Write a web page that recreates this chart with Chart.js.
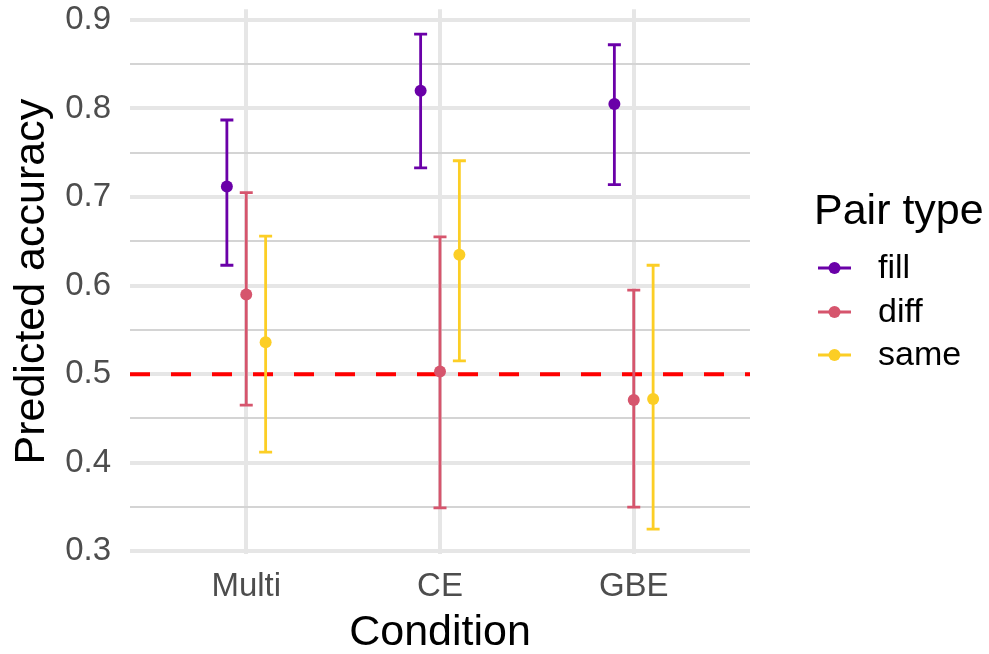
<!DOCTYPE html>
<html>
<head>
<meta charset="utf-8">
<title>Predicted accuracy by condition</title>
<script src="https://cdn.jsdelivr.net/npm/chart.js@4/dist/chart.umd.min.js"></script>
<style>
  html, body { margin: 0; padding: 0; background: #ffffff; }
  canvas { display: block; }
</style>
</head>
<body>
<canvas id="chart" width="989" height="654"></canvas>
<script>
// Conditions along the x axis
const categories = ['Multi', 'CE', 'GBE'];
// Pair types (legend order)
const pairTypes = ['fill', 'diff', 'same'];

// Predicted accuracy with lower / upper interval bounds per condition
const fillMean = [0.712, 0.820, 0.805];
const fillLow  = [0.623, 0.733, 0.714];
const fillHigh = [0.787, 0.884, 0.872];

const diffMean = [0.590, 0.503, 0.471];
const diffLow  = [0.465, 0.349, 0.350];
const diffHigh = [0.705, 0.655, 0.595];

const sameMean = [0.536, 0.635, 0.472];
const sameLow  = [0.412, 0.515, 0.325];
const sameHigh = [0.656, 0.741, 0.623];

// Chance level reference
const chanceLevel = 0.5;

// Y axis ticks
const yMajorTicks = [0.3, 0.4, 0.5, 0.6, 0.7, 0.8, 0.9];
const yMinorTicks = [0.35, 0.45, 0.55, 0.65, 0.75, 0.85];

const seriesColors = ['#6a00a8', '#d6556d', '#fcce25'];
const dodge = [-0.1, 0, 0.1];
const FONT = '"Liberation Sans", Arial, Helvetica, sans-serif';

const series = [
  { mean: fillMean, low: fillLow, high: fillHigh },
  { mean: diffMean, low: diffLow, high: diffHigh },
  { mean: sameMean, low: sameLow, high: sameHigh }
];

const datasets = [];

// dashed chance line across the panel
datasets.push({
  type: 'line',
  label: 'chance',
  data: [{ x: 0.4, y: chanceLevel }, { x: 3.6, y: chanceLevel }],
  borderColor: '#ff0000',
  borderWidth: 4,
  borderDash: [20, 21],
  pointRadius: 0,
  order: 10
});

// interval bars: one two-point segment per condition, capped with 'line' point style
series.forEach((s, si) => {
  categories.forEach((c, ci) => {
    const x = ci + 1 + dodge[si];
    datasets.push({
      type: 'line',
      label: pairTypes[si] + ' ' + c + ' interval',
      data: [{ x: x, y: s.low[ci] }, { x: x, y: s.high[ci] }],
      borderColor: seriesColors[si],
      borderWidth: 2.8,
      pointStyle: 'line',
      pointRadius: 6.5,
      pointHoverRadius: 6.5,
      pointBorderWidth: 2.8,
      pointBorderColor: seriesColors[si],
      order: 5
    });
  });
});

// point estimates
series.forEach((s, si) => {
  datasets.push({
    type: 'scatter',
    label: pairTypes[si],
    data: categories.map((c, ci) => ({ x: ci + 1 + dodge[si], y: s.mean[ci] })),
    backgroundColor: seriesColors[si],
    borderColor: seriesColors[si],
    pointRadius: 6,
    pointHoverRadius: 6,
    borderWidth: 0,
    order: 1
  });
});

const isMajor = v => Math.abs(v * 10 - Math.round(v * 10)) < 1e-6;

// axis titles and the legend on the right
const annotations = {
  id: 'annotations',
  afterDraw(chart) {
    const ctx = chart.ctx;
    const area = chart.chartArea;
    ctx.save();
    ctx.fillStyle = '#000000';
    ctx.font = '43px ' + FONT;
    ctx.textAlign = 'center';
    ctx.textBaseline = 'alphabetic';
    ctx.fillText('Condition', (area.left + area.right) / 2, 645);

    ctx.save();
    ctx.translate(44, (area.top + area.bottom) / 2);
    ctx.rotate(-Math.PI / 2);
    ctx.fillText('Predicted accuracy', 0, 0);
    ctx.restore();

    ctx.textAlign = 'left';
    ctx.fillText('Pair type', 814, 224);

    ctx.font = '34px ' + FONT;
    ctx.textBaseline = 'middle';
    const rowY = [268, 312, 355];
    pairTypes.forEach((name, i) => {
      const y = rowY[i];
      ctx.strokeStyle = seriesColors[i];
      ctx.lineWidth = 2.8;
      ctx.beginPath();
      ctx.moveTo(818, y);
      ctx.lineTo(851, y);
      ctx.stroke();
      ctx.fillStyle = seriesColors[i];
      ctx.beginPath();
      ctx.arc(834.5, y, 6, 0, Math.PI * 2);
      ctx.fill();
      ctx.fillStyle = '#000000';
      ctx.fillText(name, 878, y + 1);
    });
    ctx.restore();
  }
};

new Chart(document.getElementById('chart'), {
  data: { datasets: datasets },
  options: {
    responsive: false,
    animation: false,
    events: [],
    layout: { padding: { top: 7, right: 239, left: 0, bottom: 0 } },
    plugins: {
      legend: { display: false },
      tooltip: { enabled: false }
    },
    scales: {
      x: {
        type: 'linear',
        min: 0.4,
        max: 3.6,
        afterBuildTicks: scale => {
          scale.ticks = categories.map((c, i) => ({ value: i + 1 }));
        },
        afterFit: scale => {
          scale.height = 100;
          scale.paddingLeft = 0;
          scale.paddingRight = 0;
        },
        grid: {
          color: '#e6e6e6',
          lineWidth: 4,
          drawTicks: false
        },
        border: { display: false },
        ticks: {
          padding: 13,
          color: '#4d4d4d',
          font: { family: FONT, size: 33 },
          autoSkip: false,
          maxRotation: 0,
          callback: v => categories[Math.round(v) - 1] || ''
        }
      },
      y: {
        type: 'linear',
        min: 0.297,
        max: 0.912,
        afterBuildTicks: scale => {
          scale.ticks = yMajorTicks.concat(yMinorTicks)
            .sort((a, b) => a - b)
            .map(v => ({ value: v }));
        },
        afterFit: scale => {
          scale.width = 130;
          scale.paddingTop = 0;
          scale.paddingBottom = 0;
        },
        grid: {
          color: ctx => (ctx.tick && isMajor(ctx.tick.value)) ? '#e6e6e6' : '#d4d4d4',
          lineWidth: ctx => (ctx.tick && isMajor(ctx.tick.value)) ? 4 : 2,
          drawTicks: false
        },
        border: { display: false },
        ticks: {
          padding: 19,
          color: '#4d4d4d',
          font: { family: FONT, size: 33 },
          autoSkip: false,
          callback: v => isMajor(v) ? v.toFixed(1) : ''
        }
      }
    }
  },
  plugins: [annotations]
});
</script>
</body>
</html>
